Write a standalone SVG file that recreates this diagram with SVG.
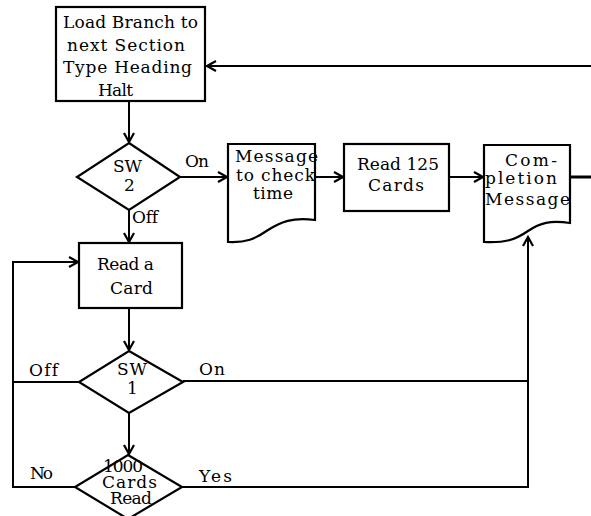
<svg xmlns="http://www.w3.org/2000/svg" width="591" height="516" viewBox="0 0 591 516">
<style>
.shape{fill:#fff;stroke:#000;stroke-width:2.2}
.ln{fill:none;stroke:#000;stroke-width:2}
.t{font-family:"DejaVu Serif","Liberation Serif",serif;font-size:17px;fill:#000;font-variant-ligatures:none}
</style>
<defs>
<marker id="ah" markerUnits="userSpaceOnUse" markerWidth="14" markerHeight="14" refX="11" refY="6" orient="auto">
<path d="M2,1 L11,6 L2,11" fill="none" stroke="#000" stroke-width="2.2"/>
</marker>
</defs>
<rect width="591" height="516" fill="#fff"/>
<g id="connectors">
<path class="ln" d="M129,101 V142" marker-end="url(#ah)"/>
<path class="ln" d="M180,177 H227" marker-end="url(#ah)"/>
<path class="ln" d="M315,177 H343" marker-end="url(#ah)"/>
<path class="ln" d="M449,177 H483" marker-end="url(#ah)"/>
<path class="ln" d="M570,177 H591" style="stroke-width:3"/>
<path class="ln" d="M591,66 H207" marker-end="url(#ah)"/>
<path class="ln" d="M129,210 V242" marker-end="url(#ah)"/>
<path class="ln" d="M129,308 V350" marker-end="url(#ah)"/>
<path class="ln" d="M129,413 V454" marker-end="url(#ah)"/>
<path class="ln" d="M79,382 H13"/>
<path class="ln" d="M75,487 H13 V262 H78" marker-end="url(#ah)"/>
<path class="ln" d="M183,381 H528"/>
<path class="ln" d="M182,487 H528 V237" marker-end="url(#ah)"/>
</g>
<g id="load-branch">
<rect class="shape" x="56" y="7" width="149" height="94"/>
<text class="t" x="63" y="28" textLength="135" lengthAdjust="spacing">Load Branch to</text>
<text class="t" x="67" y="51" textLength="118" lengthAdjust="spacing">next Section</text>
<text class="t" x="63" y="73" textLength="129" lengthAdjust="spacing">Type Heading</text>
<text class="t" x="98" y="96" textLength="35" lengthAdjust="spacing">Halt</text>
</g>
<g id="sw2">
<path class="shape" d="M129,143 L180,177 L129,210 L77,177 Z"/>
<text class="t" x="113" y="172" textLength="29" lengthAdjust="spacing">SW</text>
<text class="t" x="124" y="191">2</text>
<text class="t" x="185" y="167" textLength="24" lengthAdjust="spacing">On</text>
<text class="t" x="132" y="223" textLength="26" lengthAdjust="spacing">Off</text>
</g>
<g id="msg-check-time">
<path class="shape" d="M228,144 H315 V220 C292,217 281,222 268,230 C255,239 246,243 228,242 Z"/>
<text class="t" x="235" y="162" textLength="83" lengthAdjust="spacing">Message</text>
<text class="t" x="236" y="181" textLength="79" lengthAdjust="spacing">to check</text>
<text class="t" x="253" y="199" textLength="40" lengthAdjust="spacing">time</text>
</g>
<g id="read-125">
<rect class="shape" x="344" y="144" width="105" height="67"/>
<text class="t" x="357" y="170" textLength="82" lengthAdjust="spacing">Read 125</text>
<text class="t" x="368" y="191" textLength="56" lengthAdjust="spacing">Cards</text>
</g>
<g id="completion-msg">
<path class="shape" d="M484,145 H570 V223 C550,220 540,223 528,231 C515,240 505,243 484,242 Z"/>
<text class="t" x="505" y="166" textLength="52" lengthAdjust="spacing">Com-</text>
<text class="t" x="485" y="184" textLength="72" lengthAdjust="spacing">pletion</text>
<text class="t" x="485" y="205" textLength="85" lengthAdjust="spacing">Message</text>
</g>
<g id="read-a-card">
<rect class="shape" x="79" y="243" width="103" height="65"/>
<text class="t" x="97" y="270" textLength="57" lengthAdjust="spacing">Read a</text>
<text class="t" x="110" y="294" textLength="43" lengthAdjust="spacing">Card</text>
</g>
<g id="sw1">
<path class="shape" d="M129,351 L183,382 L129,413 L79,382 Z"/>
<text class="t" x="117" y="375" textLength="30" lengthAdjust="spacing">SW</text>
<text class="t" x="127" y="394">1</text>
<text class="t" x="29" y="376" textLength="29" lengthAdjust="spacing">Off</text>
<text class="t" x="199" y="375" textLength="26" lengthAdjust="spacing">On</text>
</g>
<g id="cards-read-1000">
<path class="shape" d="M128,455 L182,487 L128,519 L75,487 Z"/>
<text class="t" x="103" y="472" textLength="40" lengthAdjust="spacing">1000</text>
<text class="t" x="102" y="488" textLength="55" lengthAdjust="spacing">Cards</text>
<text class="t" x="110" y="504" textLength="42" lengthAdjust="spacing">Read</text>
<text class="t" x="30" y="479" textLength="23" lengthAdjust="spacing">No</text>
<text class="t" x="199" y="482" textLength="33" lengthAdjust="spacing">Yes</text>
</g>
</svg>
